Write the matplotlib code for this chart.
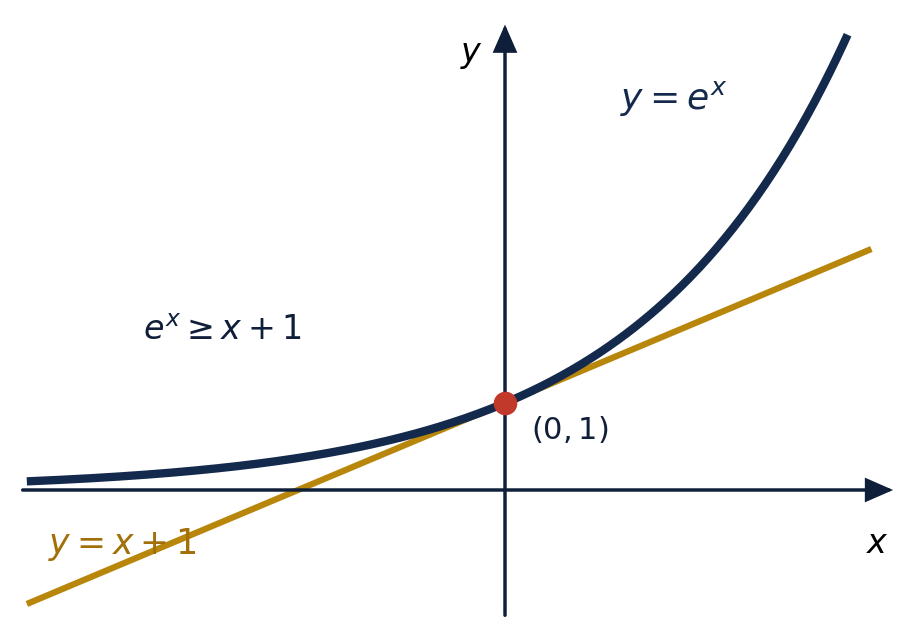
import numpy as np
import matplotlib.pyplot as plt

# curve ranges and labels
x_curve = np.linspace(-2.31, 1.655, 400)
x_line = np.array([-2.31, 1.77])
touch_point = (0.0, 1.0)

navy = "#0f1f3a"
curve_col = "#142a4c"
gold = "#b8860b"
gold_text = "#a26f0a"
red = "#c0392b"

fig = plt.figure(figsize=(9.16, 6.39), dpi=100)
ax = fig.add_axes([0, 0, 1, 1])
ax.set_xlim(-505 / 207, (916 - 505) / 207)
ax.set_ylim(-(639 - 490) / 87, 490 / 87)
ax.axis("off")

# axes with arrows
head = "-|>,head_length=1.6,head_width=0.7"
ax.annotate("", xy=(1.875, 0), xytext=(-2.33, 0),
            arrowprops=dict(arrowstyle=head, color=navy, lw=2.5,
                            shrinkA=0, shrinkB=0, joinstyle="miter"))
ax.annotate("", xy=(0, 5.35), xytext=(0, -1.44),
            arrowprops=dict(arrowstyle=head, color=navy, lw=2.5,
                            shrinkA=0, shrinkB=0, joinstyle="miter"))

ax.plot(x_line, x_line + 1, color=gold, lw=4.5, solid_capstyle="butt", zorder=2)
ax.plot(x_curve, np.exp(x_curve), color=curve_col, lw=6, solid_capstyle="butt", zorder=3)
ax.plot(*touch_point, "o", color=red, ms=16, zorder=4)

ax.text(0.125, 0.70, r"$(0,1)$", fontsize=22, color=navy, va="center", ha="left")
ax.text(0.555, 4.5, r"$y = e^x$", fontsize=26, color=curve_col, va="center", ha="left")
ax.text(-1.75, 1.83, r"$e^x \geq x+1$", fontsize=24, color=navy, va="center", ha="left")
ax.text(-2.21, -0.63, r"$y = x+1$", fontsize=25, color=gold_text, va="center", ha="left")
ax.text(1.80, -0.61, r"$x$", fontsize=24, color="black", va="center", ha="center")
ax.text(-0.16, 5.0, r"$y$", fontsize=24, color="black", va="center", ha="center")

fig.savefig("out.png", dpi=100)
